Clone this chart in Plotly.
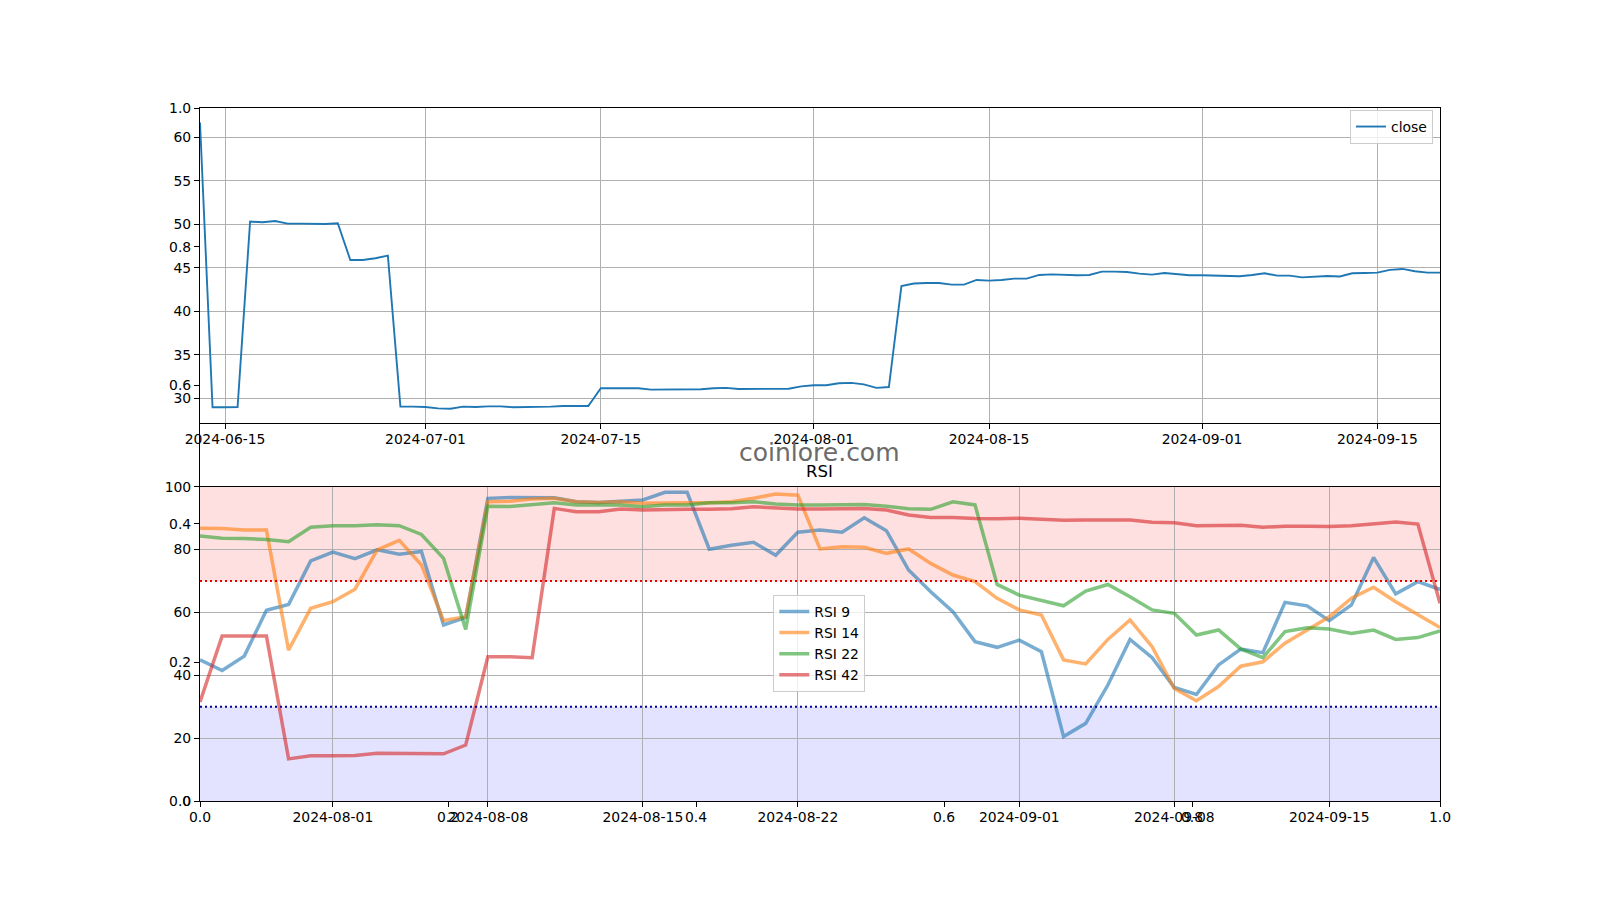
import pandas as pd
import plotly.graph_objects as go

# ---------------- data ----------------
close_start = "2024-06-13"
close_values = [
    61.7, 28.97, 28.97, 29.0, 50.31, 50.23, 50.38, 50.08, 50.08, 50.04,
    50.04, 50.12, 45.9, 45.9, 46.1, 46.4, 29.05, 29.05, 29.0, 28.85,
    28.8, 29.05, 29.0, 29.08, 29.08, 28.97, 28.97, 28.97, 29.05, 29.12,
    29.12, 29.12, 31.15, 31.15, 31.2, 31.15, 31.0, 31.0, 30.96, 31.0,
    31.04, 31.15, 31.2, 31.08, 31.1, 31.1, 31.15, 31.1, 31.38, 31.5,
    31.5, 31.73, 31.77, 31.6, 31.2, 31.3, 42.9, 43.2, 43.26, 43.26,
    43.07, 43.07, 43.6, 43.53, 43.6, 43.76, 43.76, 44.18, 44.25, 44.18,
    44.14, 44.18, 44.56, 44.56, 44.52, 44.33, 44.22, 44.4, 44.3, 44.14,
    44.14, 44.1, 44.0, 44.03, 44.18, 44.37, 44.1, 44.1, 43.9, 43.95,
    44.06, 44.0, 44.37, 44.4, 44.45, 44.76, 44.87, 44.6, 44.45, 44.45,
]
close_dates = pd.date_range(close_start, periods=len(close_values), freq="D")

rsi_start = "2024-07-26"
rsi_9 = [44.9, 41.5, 46.1, 60.7, 62.5, 76.4, 79.2, 77.1, 79.9, 78.5,
         79.4, 56.0, 58.4, 96.3, 96.6, 96.5, 96.5, 95.2, 95.0, 95.4,
         95.8, 98.2, 98.2, 80.1, 81.4, 82.3, 78.2, 85.5, 86.2, 85.5,
         90.1, 86.0, 73.5, 66.6, 60.2, 50.7, 48.9, 51.2, 47.5, 20.5,
         24.7, 36.9, 51.4, 45.6, 36.1, 33.9, 43.3, 48.3, 47.2, 63.2,
         62.1, 57.4, 62.4, 77.5, 65.9, 69.8, 67.3]
rsi_14 = [86.8, 86.7, 86.2, 86.2, 48.0, 61.3, 63.4, 67.4, 79.9, 82.9,
          75.1, 57.4, 58.6, 95.2, 95.4, 96.1, 96.3, 95.2, 95.0, 95.2,
          94.7, 94.9, 94.9, 94.9, 95.2, 96.3, 97.7, 97.3, 80.2, 80.9,
          80.7, 78.8, 80.2, 75.6, 71.9, 69.8, 64.5, 60.8, 59.2, 44.9,
          43.6, 51.4, 57.6, 49.1, 35.8, 31.9, 36.4, 42.9, 44.3, 50.2,
          54.4, 58.6, 64.5, 68.0, 63.4, 59.2, 55.2]
rsi_22 = [84.3, 83.6, 83.5, 83.2, 82.5, 87.1, 87.6, 87.6, 87.9, 87.6,
          84.8, 77.2, 54.6, 93.8, 93.7, 94.3, 94.9, 94.2, 94.1, 94.2,
          93.6, 94.2, 94.2, 94.9, 94.9, 95.2, 94.5, 94.2, 94.2, 94.3,
          94.3, 93.8, 93.0, 92.8, 95.2, 94.2, 68.9, 65.5, 63.9, 62.1,
          66.8, 68.9, 65.0, 60.8, 59.7, 52.8, 54.4, 48.4, 45.6, 53.9,
          55.1, 54.7, 53.3, 54.4, 51.4, 52.0, 54.1]
rsi_42 = [31.5, 52.5, 52.5, 52.5, 13.4, 14.4, 14.4, 14.5, 15.2, 15.2,
          15.2, 15.0, 17.8, 45.9, 45.9, 45.6, 93.1, 92.0, 92.0, 92.9,
          92.6, 92.8, 92.8, 92.8, 93.0, 93.6, 93.2, 92.9, 92.9, 93.1,
          93.1, 92.6, 91.0, 90.2, 90.2, 89.9, 89.8, 90.0, 89.7, 89.3,
          89.4, 89.4, 89.4, 88.7, 88.5, 87.6, 87.6, 87.7, 87.1, 87.4,
          87.4, 87.3, 87.6, 88.2, 88.8, 88.1, 62.9]
rsi_dates = pd.date_range(rsi_start, periods=len(rsi_9), freq="D")
rsi_names = ["RSI 9", "RSI 14", "RSI 22", "RSI 42"]
rsi_series = [rsi_9, rsi_14, rsi_22, rsi_42]
rsi_colors = ["#1f77b4", "#ff7f0e", "#2ca02c", "#d62728"]

overbought = 70
oversold = 30

close_ticks = ["2024-06-15", "2024-07-01", "2024-07-15", "2024-08-01",
               "2024-08-15", "2024-09-01", "2024-09-15"]
rsi_ticks = ["2024-08-01", "2024-08-08", "2024-08-15", "2024-08-22",
             "2024-09-01", "2024-09-08", "2024-09-15"]
price_ticks = [30, 35, 40, 45, 50, 55, 60]
rsi_yticks = [0, 20, 40, 60, 80, 100]
unit_ticks = [0.0, 0.2, 0.4, 0.6, 0.8, 1.0]

# ---------------- figure ----------------
W, H = 1600, 900
L, R = 200 / W, 1440 / W
top_dom = [1 - 423.3 / H, 1 - 108.3 / H]
bot_dom = [1 - 801 / H, 1 - 486.7 / H]
full_dom = [bot_dom[0], top_dom[1]]

FONT = "DejaVu Sans"
FS = 13.9
GRID = "#b0b0b0"

fig = go.Figure()

fig.add_trace(go.Scatter(x=close_dates, y=close_values, mode="lines", name="close",
                         line=dict(color="#1f77b4", width=1.9), xaxis="x", yaxis="y",
                         legend="legend", hoverinfo="skip"))

for name, vals, col in zip(rsi_names, rsi_series, rsi_colors):
    fig.add_trace(go.Scatter(x=rsi_dates, y=vals, mode="lines", name=name,
                             line=dict(color=col, width=3.5), opacity=0.6,
                             xaxis="x2", yaxis="y2", legend="legend2", hoverinfo="skip"))

# helper trace so the unit (0-1) background axes get drawn
fig.add_trace(go.Scatter(x=[], y=[], xaxis="x3", yaxis="y3", showlegend=False,
                         hoverinfo="skip"))

common = dict(showline=True, mirror=True, linecolor="black", linewidth=1.1,
              ticks="outside", ticklen=5, tickwidth=1.1, tickcolor="black",
              tickfont=dict(family=FONT, size=FS, color="black"),
              zeroline=False, automargin=False)

fig.update_layout(
    template="none",
    width=W, height=H,
    margin=dict(l=0, r=0, t=0, b=0, pad=0, autoexpand=False),
    paper_bgcolor="white", plot_bgcolor="rgba(0,0,0,0)",
    font=dict(family=FONT, size=FS, color="black"),
    xaxis=dict(domain=[L, R], anchor="y", type="date",
               range=[close_dates[0], close_dates[-1]],
               tickvals=close_ticks, tickformat="%Y-%m-%d", ticklabelstandoff=-2,
               showgrid=True, gridcolor=GRID, gridwidth=1, **common),
    yaxis=dict(domain=top_dom, anchor="x", range=[27.13, 63.33],
               tickvals=price_ticks, showgrid=True, gridcolor=GRID, gridwidth=1, **common),
    xaxis2=dict(domain=[L, R], anchor="y2", type="date",
                range=[rsi_dates[0], rsi_dates[-1]],
                tickvals=rsi_ticks, tickformat="%Y-%m-%d", ticklabelstandoff=-2,
                showgrid=True, gridcolor=GRID, gridwidth=1, **common),
    yaxis2=dict(domain=bot_dom, anchor="x2", range=[0, 100],
                tickvals=rsi_yticks, showgrid=True, gridcolor=GRID, gridwidth=1, **common),
    xaxis3=dict(domain=[L, R], anchor="y3", range=[0, 1], tickvals=unit_ticks,
                ticktext=[f"{v:.1f}" for v in unit_ticks], ticklabelstandoff=-2,
                showgrid=False, **common),
    yaxis3=dict(domain=full_dom, anchor="x3", range=[0, 1], tickvals=unit_ticks,
                ticktext=[f"{v:.1f}" for v in unit_ticks], showgrid=False, **common),
    legend=dict(x=1433 / W, xanchor="right", y=1 - 110 / H, yanchor="top",
                bgcolor="rgba(255,255,255,0.8)", bordercolor="#cccccc", borderwidth=1,
                font=dict(family=FONT, size=FS, color="black")),
    legend2=dict(x=773.3 / W, xanchor="left", y=1 - 595 / H, yanchor="top",
                 bgcolor="rgba(255,255,255,0.8)", bordercolor="#cccccc", borderwidth=1,
                 font=dict(family=FONT, size=FS, color="black")),
    showlegend=True,
)

# overbought / oversold zones and levels
fig.add_shape(type="rect", xref="x2 domain", yref="y2", x0=0, x1=1,
              y0=overbought, y1=100, fillcolor="rgba(255,0,0,0.12)",
              line=dict(width=0), layer="below")
fig.add_shape(type="rect", xref="x2 domain", yref="y2", x0=0, x1=1,
              y0=0, y1=oversold, fillcolor="rgba(0,0,255,0.11)",
              line=dict(width=0), layer="below")
fig.add_shape(type="line", xref="x2 domain", yref="y2", x0=0, x1=1,
              y0=overbought, y1=overbought,
              line=dict(color="#ee0000", width=2, dash="2px,3px"))
fig.add_shape(type="line", xref="x2 domain", yref="y2", x0=0, x1=1,
              y0=oversold, y1=oversold,
              line=dict(color="#000099", width=2, dash="2px,3px"))

fig.add_annotation(text="coinlore.com", xref="paper", yref="paper",
                   x=(L + R) / 2, y=1 - 453 / H, showarrow=False,
                   xanchor="center", yanchor="middle",
                   font=dict(family=FONT, size=25, color="#6b6b6b"))
fig.add_annotation(text="RSI", xref="paper", yref="paper",
                   x=(L + R) / 2, y=1 - 471.7 / H, showarrow=False,
                   xanchor="center", yanchor="middle",
                   font=dict(family=FONT, size=16.5, color="black"))

fig.write_html("out.html")
